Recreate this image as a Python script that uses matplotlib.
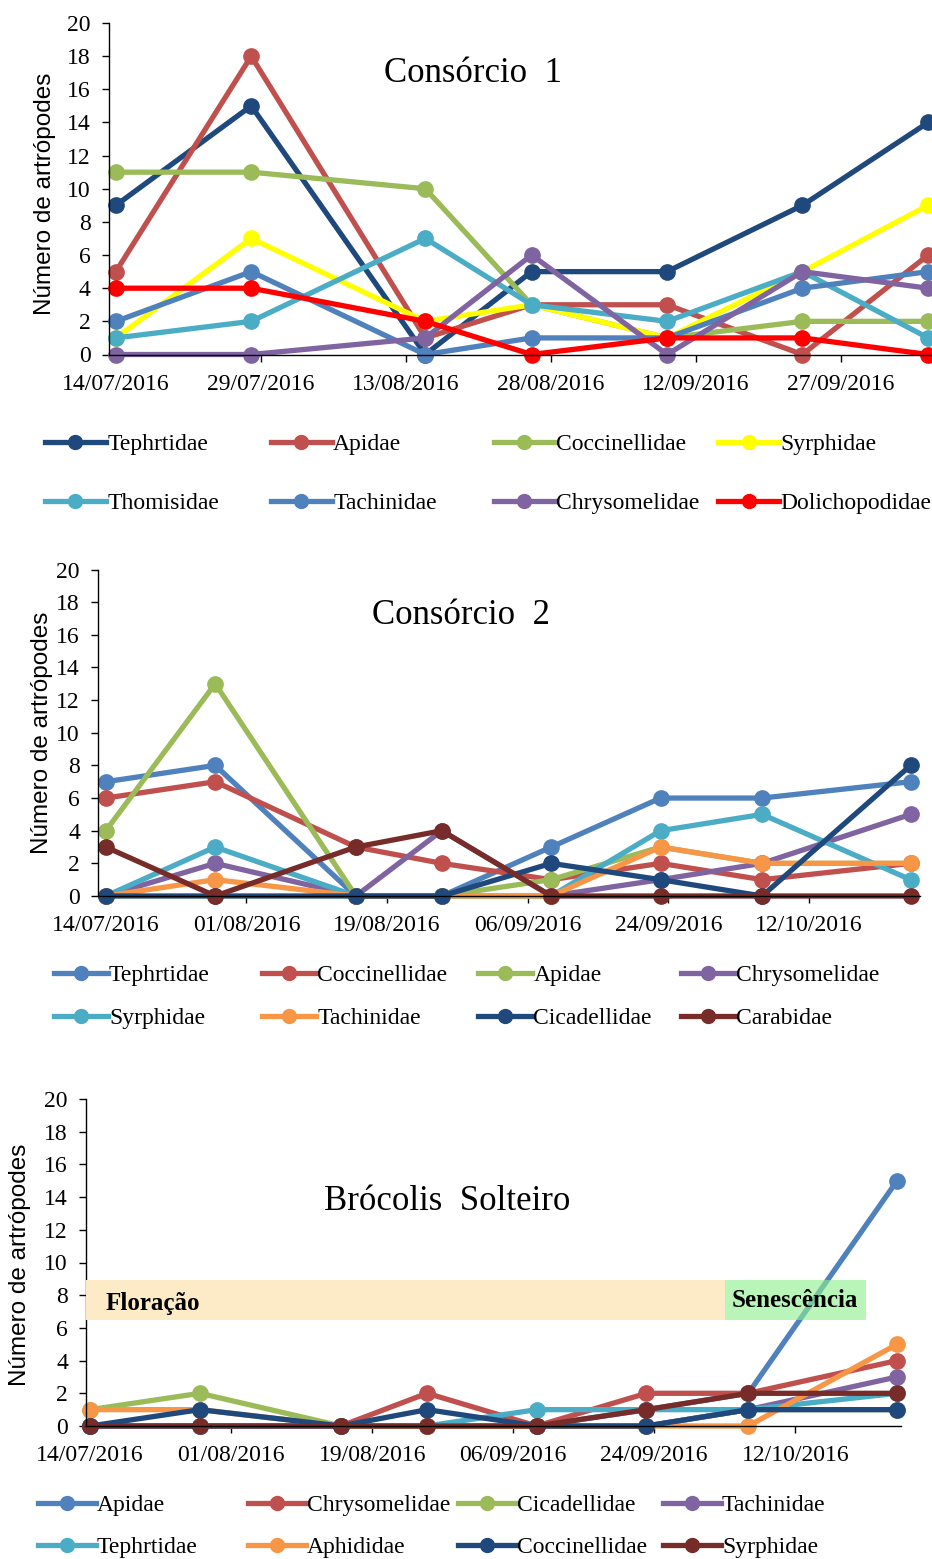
import datetime as dt
import matplotlib
matplotlib.use("Agg")
import matplotlib.pyplot as plt
import matplotlib.dates as mdates
from matplotlib.lines import Line2D
from matplotlib.patches import Rectangle

W, H = 932, 1559

# sampling dates
dates_c1 = ["2016-07-14", "2016-07-28", "2016-08-15", "2016-08-26",
            "2016-09-09", "2016-09-23", "2016-10-06"]
dates_c2 = dates_c1 + ["2016-10-25"]
dates_bs = dates_c2

# Consórcio 1
c1_labels = ["Tephrtidae", "Apidae", "Coccinellidae", "Syrphidae",
             "Thomisidae", "Tachinidae", "Chrysomelidae", "Dolichopodidae"]
c1_tephrtidae = [9, 15, 0, 5, 5, 9, 14]
c1_apidae = [5, 18, 1, 3, 3, 0, 6]
c1_coccinellidae = [11, 11, 10, 3, 1, 2, 2]
c1_syrphidae = [1, 7, 2, 3, 1, 5, 9]
c1_thomisidae = [1, 2, 7, 3, 2, 5, 1]
c1_tachinidae = [2, 5, 0, 1, 1, 4, 5]
c1_chrysomelidae = [0, 0, 1, 6, 0, 5, 4]
c1_dolichopodidae = [4, 4, 2, 0, 1, 1, 0]

# Consórcio 2
c2_labels = ["Tephrtidae", "Coccinellidae", "Apidae", "Chrysomelidae",
             "Syrphidae", "Tachinidae", "Cicadellidae", "Carabidae"]
c2_tephrtidae = [7, 8, 0, 0, 3, 6, 6, 7]
c2_coccinellidae = [6, 7, 3, 2, 1, 2, 1, 2]
c2_apidae = [4, 13, 0, 0, 1, 3, 2, 2]
c2_chrysomelidae = [0, 2, 0, 4, 0, 1, 2, 5]
c2_syrphidae = [0, 3, 0, 0, 0, 4, 5, 1]
c2_tachinidae = [0, 1, 0, 0, 0, 3, 2, 2]
c2_cicadellidae = [0, 0, 0, 0, 2, 1, 0, 8]
c2_carabidae = [3, 0, 3, 4, 0, 0, 0, 0]

# Brócolis solteiro
bs_labels = ["Apidae", "Chrysomelidae", "Cicadellidae", "Tachinidae",
             "Tephrtidae", "Aphididae", "Coccinellidae", "Syrphidae"]
bs_apidae = [0, 0, 0, 0, 0, 1, 2, 15]
bs_chrysomelidae = [0, 0, 0, 2, 0, 2, 2, 4]
bs_cicadellidae = [1, 2, 0, 0, 0, 0, 1, 1]
bs_tachinidae = [0, 0, 0, 0, 0, 0, 1, 3]
bs_tephrtidae = [0, 0, 0, 0, 1, 1, 1, 2]
bs_aphididae = [1, 1, 0, 0, 0, 0, 0, 5]
bs_coccinellidae = [0, 1, 0, 1, 0, 0, 1, 1]
bs_syrphidae = [0, 0, 0, 0, 0, 1, 2, 2]

# crop phases
phase_labels = ["Floração", "Senescência"]
phase_edges = ["2016-10-03", "2016-10-21"]

navy = "#1F497D"
red = "#C0504D"
green = "#9BBB59"
cyan = "#4BACC6"
blue = "#4F81BD"
purple = "#8064A2"
orange = "#F79646"
maroon = "#772C2A"

c1_colors = [navy, red, green, "#FFFF00", cyan, blue, purple, "#FF0000"]
c2_colors = [blue, red, green, purple, cyan, orange, navy, maroon]
bs_colors = [blue, red, green, purple, cyan, orange, navy, maroon]

serif = "Liberation Serif"
sans = "Liberation Sans"
LW, MS = 3.8, 11


def to_dates(ds):
    return [dt.datetime.strptime(d, "%Y-%m-%d") for d in ds]


def px_axes(l, t, r, b):
    return [l / W, 1 - b / H, (r - l) / W, (b - t) / H]


def draw_panel(ax, dates, series, colors, step, pad_left, pad_right):
    x = to_dates(dates)
    for vals, c in zip(series, colors):
        ax.plot(x, vals, color=c, lw=LW, marker="o", ms=MS,
                clip_on=False, solid_joinstyle="round")
    ax.set_ylim(0, 20)
    ax.set_yticks(range(0, 21, 2))
    ax.set_xlim(x[0] - dt.timedelta(days=pad_left),
                x[-1] + dt.timedelta(days=pad_right))
    ax.set_xticks([x[0] + dt.timedelta(days=step * k) for k in range(6)])
    ax.xaxis.set_major_formatter(mdates.DateFormatter("%d/%m/%Y"))
    for s in ["top", "right"]:
        ax.spines[s].set_visible(False)
    for s in ["left", "bottom"]:
        ax.spines[s].set_linewidth(1.0)
        ax.spines[s].set_color("black")
    ax.tick_params(axis="y", direction="out", length=5, pad=8, width=1)
    ax.tick_params(axis="x", direction="out", length=5, pad=9, width=1)
    for lab in ax.get_xticklabels() + ax.get_yticklabels():
        lab.set_fontfamily(serif)
        lab.set_fontsize(17)


def add_legend(fig, labels, colors, cols, rows, hl):
    for i, (lab, c) in enumerate(zip(labels, colors)):
        h = Line2D([], [], color=c, lw=LW, marker="o", ms=10)
        fig.legend(handles=[h], labels=[lab], loc="center left",
                   bbox_to_anchor=(cols[i % 4] / W, 1 - rows[i // 4] / H),
                   frameon=False, borderpad=0, borderaxespad=0,
                   handlelength=hl, handletextpad=0.05, numpoints=1,
                   prop={"family": serif, "size": 17})


fig = plt.figure(figsize=(W / 100, H / 100), dpi=100)

ax1 = fig.add_axes(px_axes(108.8, 23, 932, 354.5))
draw_panel(ax1, dates_c1,
           [c1_tephrtidae, c1_apidae, c1_coccinellidae, c1_syrphidae,
            c1_thomisidae, c1_tachinidae, c1_chrysomelidae, c1_dolichopodidae],
           c1_colors, 15, 0.73, 0.4)

ax2 = fig.add_axes(px_axes(98, 569.5, 920, 896))
draw_panel(ax2, dates_c2,
           [c2_tephrtidae, c2_coccinellidae, c2_apidae, c2_chrysomelidae,
            c2_syrphidae, c2_tachinidae, c2_cicadellidae, c2_carabidae],
           c2_colors, 18, 1.0, 1.2)

ax3 = fig.add_axes(px_axes(86, 1099, 901, 1426))
draw_panel(ax3, dates_bs,
           [bs_apidae, bs_chrysomelidae, bs_cicadellidae, bs_tachinidae,
            bs_tephrtidae, bs_aphididae, bs_coccinellidae, bs_syrphidae],
           bs_colors, 18, 0.54, 0.5)

# phase boxes on the last panel
x0 = ax3.get_xlim()[0]
e1, e2 = [mdates.date2num(d) for d in to_dates(phase_edges)]
ax3.add_patch(Rectangle((x0, 6.5), e1 - x0, 2.45, facecolor="#FCEBC6",
                        edgecolor="none", zorder=5))
ax3.add_patch(Rectangle((e1, 6.5), e2 - e1, 2.45, facecolor="#8FEE8F",
                        alpha=0.62, edgecolor="none", zorder=5))
ax3.text(x0 + 2.5, 7.5, phase_labels[0], family=serif, weight="bold",
         fontsize=18, va="center", ha="left", zorder=6)
ax3.text((e1 + e2) / 2, 7.65, phase_labels[1], family=serif, weight="bold",
         fontsize=18, va="center", ha="center", zorder=6)

for ax, (lx, ly) in zip([ax1, ax2, ax3], [(45, 194), (42, 733), (20, 1265)]):
    fig.text(lx / W, 1 - ly / H, "Número de artrópodes", rotation=90,
             ha="center", va="center", family=sans, fontsize=17.5)

fig.text(473 / W, 1 - 73 / H, "Consórcio  1", ha="center", va="center",
         family=serif, fontsize=25)
fig.text(461 / W, 1 - 615 / H, "Consórcio  2", ha="center", va="center",
         family=serif, fontsize=25)
fig.text(447 / W, 1 - 1202 / H, "Brócolis  Solteiro", ha="center", va="center",
         family=serif, fontsize=25)

add_legend(fig, c1_labels, c1_colors, [44.6, 270.5, 493.5, 718], [444, 503], 2.6)
add_legend(fig, c2_labels, c2_colors, [53.5, 261.6, 478, 680.7], [975, 1018], 2.3)
add_legend(fig, bs_labels, bs_colors, [38, 248, 458, 663], [1505, 1547], 2.45)

fig.savefig("out.png", dpi=100)
